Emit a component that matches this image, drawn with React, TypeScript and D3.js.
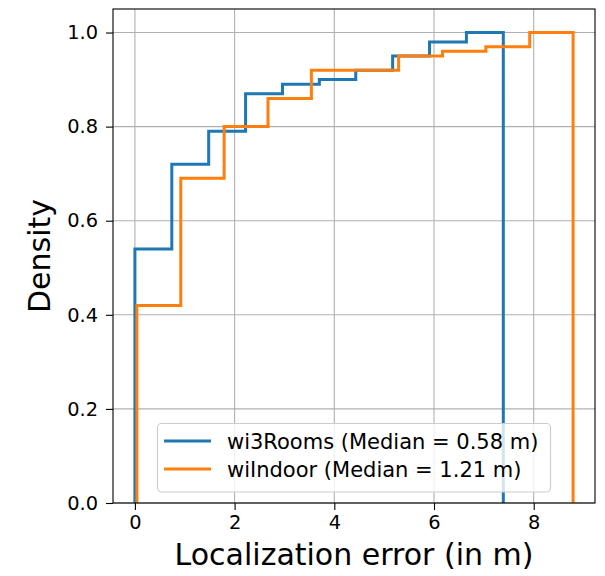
import React, { useRef, useEffect } from "react";
import * as d3 from "d3";

// cumulative step histograms
const roomsEdges = [0, 0.74, 1.48, 2.22, 2.96, 3.7, 4.43, 5.17, 5.91, 6.65, 7.39];
const roomsValues = [0.54, 0.72, 0.79, 0.87, 0.89, 0.9, 0.92, 0.95, 0.98, 1.0];
const indoorEdges = [0.04, 0.92, 1.79, 2.67, 3.54, 4.42, 5.29, 6.17, 7.04, 7.92, 8.79];
const indoorValues = [0.42, 0.69, 0.8, 0.86, 0.92, 0.92, 0.95, 0.96, 0.97, 1.0];
const seriesNames = ["wi3Rooms (Median = 0.58 m)", "wiIndoor (Median = 1.21 m)"];
const xTicks = [0, 2, 4, 6, 8];
const yTicks = [0, 0.2, 0.4, 0.6, 0.8, 1.0];

const W = 605;
const H = 576;
const margin = { left: 113, right: 10, top: 9, bottom: 73 };
const FONT = "DejaVu Sans";

const App = () => {
  const svgRef = useRef<SVGSVGElement>(null);

  useEffect(() => {
    const svg = d3.select(svgRef.current);
    svg.selectAll("*").remove();

    const x0 = margin.left, x1 = W - margin.right;
    const y0 = H - margin.bottom, y1 = margin.top;

    const xMin = d3.min([roomsEdges[0], indoorEdges[0]]) as number;
    const xMax = d3.max([roomsEdges[roomsEdges.length - 1], indoorEdges[indoorEdges.length - 1]]) as number;
    const pad = (xMax - xMin) * 0.05;
    const xScale = d3.scaleLinear().domain([xMin - pad, xMax + pad]).range([x0, x1]);
    const yScale = d3.scaleLinear().domain([0, 1.05]).range([y0, y1]);

    // grid
    const grid = svg.append("g");
    xTicks.forEach(t => {
      grid.append("line")
        .attr("x1", xScale(t)).attr("x2", xScale(t))
        .attr("y1", y0).attr("y2", y1)
        .attr("stroke", "#b0b0b0").attr("stroke-width", 1.1);
    });
    yTicks.forEach(t => {
      grid.append("line")
        .attr("x1", x0).attr("x2", x1)
        .attr("y1", yScale(t)).attr("y2", yScale(t))
        .attr("stroke", "#b0b0b0").attr("stroke-width", 1.1);
    });

    const stepPath = (edges: number[], values: number[]) => {
      const pts: [number, number][] = [[edges[0], 0]];
      values.forEach((v, i) => {
        pts.push([edges[i], v]);
        pts.push([edges[i + 1], v]);
      });
      pts.push([edges[edges.length - 1], 0]);
      return d3.line<[number, number]>()
        .x(d => xScale(d[0]))
        .y(d => yScale(d[1]))(pts);
    };

    const plot = svg.append("g");
    plot.append("path")
      .attr("d", stepPath(roomsEdges, roomsValues))
      .attr("fill", "none").attr("stroke", "#1f77b4")
      .attr("stroke-width", 3).attr("stroke-linejoin", "miter");
    plot.append("path")
      .attr("d", stepPath(indoorEdges, indoorValues))
      .attr("fill", "none").attr("stroke", "#ff7f0e")
      .attr("stroke-width", 3).attr("stroke-linejoin", "miter");

    // axes
    const xAxis = d3.axisBottom(xScale).tickValues(xTicks).tickSize(7).tickPadding(5)
      .tickFormat(d3.format("d"));
    const yAxis = d3.axisLeft(yScale).tickValues(yTicks).tickSize(7).tickPadding(8)
      .tickFormat(d3.format(".1f"));

    const gx = svg.append("g").attr("transform", `translate(0, ${y0})`).call(xAxis);
    const gy = svg.append("g").attr("transform", `translate(${x0}, 0)`).call(yAxis);
    [gx, gy].forEach(g => {
      g.select(".domain").remove();
      g.selectAll("line").attr("stroke", "#000").attr("stroke-width", 1.1);
      g.selectAll("text").attr("font-family", FONT).attr("font-size", 19.4).attr("fill", "#000");
    });

    // frame
    svg.append("rect")
      .attr("x", x0).attr("y", y1)
      .attr("width", x1 - x0).attr("height", y0 - y1)
      .attr("fill", "none").attr("stroke", "#000").attr("stroke-width", 1.1);

    // labels
    svg.append("text")
      .attr("x", (x0 + x1) / 2).attr("y", 565)
      .attr("text-anchor", "middle")
      .attr("font-family", FONT).attr("font-size", 30)
      .text("Localization error (in m)");
    svg.append("text")
      .attr("transform", `translate(50, ${(y0 + y1) / 2}) rotate(-90)`)
      .attr("text-anchor", "middle")
      .attr("font-family", FONT).attr("font-size", 30)
      .text("Density");

    // legend
    const legend = svg.append("g");
    legend.append("rect")
      .attr("x", 157.5).attr("y", 423.5)
      .attr("width", 393).attr("height", 68.5)
      .attr("rx", 4)
      .attr("fill", "#fff").attr("fill-opacity", 0.8)
      .attr("stroke", "#cccccc").attr("stroke-width", 1.1);
    const colors = ["#1f77b4", "#ff7f0e"];
    seriesNames.forEach((name, i) => {
      const cy = 441 + i * 28;
      legend.append("line")
        .attr("x1", 164).attr("x2", 211)
        .attr("y1", cy).attr("y2", cy)
        .attr("stroke", colors[i]).attr("stroke-width", 3);
      legend.append("text")
        .attr("x", 227).attr("y", cy + 7.5)
        .attr("font-family", FONT).attr("font-size", 21)
        .text(name);
    });
  }, []);

  return (
    <svg ref={svgRef} width={W} height={H}
      style={{ position: "absolute", left: 0, top: 0, background: "#fff" }} />
  );
};

export default App;
